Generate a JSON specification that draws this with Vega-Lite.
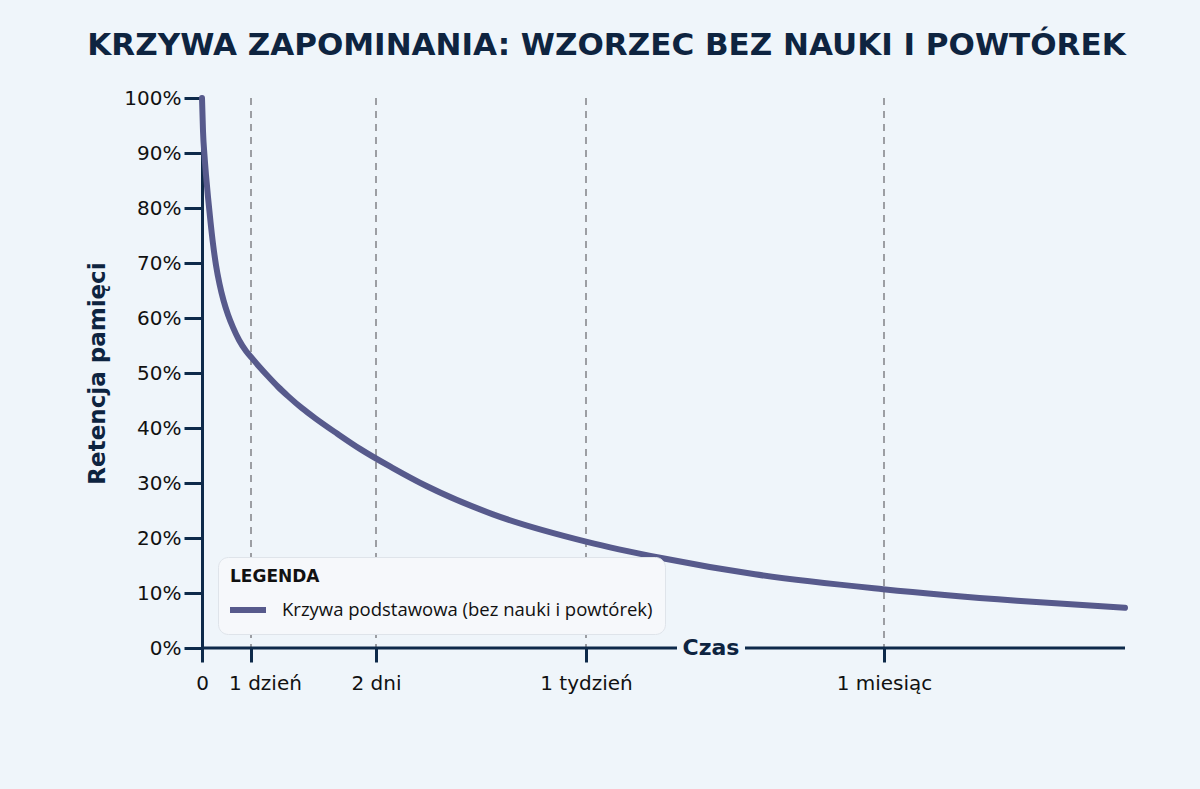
{
  "$schema": "https://vega.github.io/schema/vega-lite/v6.json",
  "autosize": {"type": "none"},
  "width": 923,
  "height": 550,
  "padding": {"left": 202, "top": 98, "right": 75, "bottom": 141},
  "background": "#eff5fa",
  "config": {
    "view": {"stroke": null},
    "font": "DejaVu Sans"
  },
  "title": {
    "text": "KRZYWA ZAPOMINANIA: WZORZEC BEZ NAUKI I POWTÓREK",
    "font": "DejaVu Sans",
    "fontWeight": "bold",
    "fontSize": 31,
    "color": "#0e2440",
    "anchor": "middle",
    "frame": "group",
    "dx": -57,
    "offset": 26
  },
  "datasets": {
    "curve": [
      {"t": 0, "r": 100, "s": "Krzywa podstawowa (bez nauki i powtórek)"},
      {"t": 1, "r": 94, "s": "Krzywa podstawowa (bez nauki i powtórek)"},
      {"t": 2.5, "r": 89.5, "s": "Krzywa podstawowa (bez nauki i powtórek)"},
      {"t": 4, "r": 86, "s": "Krzywa podstawowa (bez nauki i powtórek)"},
      {"t": 6, "r": 82, "s": "Krzywa podstawowa (bez nauki i powtórek)"},
      {"t": 8.5, "r": 77.5, "s": "Krzywa podstawowa (bez nauki i powtórek)"},
      {"t": 11, "r": 73.5, "s": "Krzywa podstawowa (bez nauki i powtórek)"},
      {"t": 14, "r": 69.6, "s": "Krzywa podstawowa (bez nauki i powtórek)"},
      {"t": 17.5, "r": 66.2, "s": "Krzywa podstawowa (bez nauki i powtórek)"},
      {"t": 21.5, "r": 63.2, "s": "Krzywa podstawowa (bez nauki i powtórek)"},
      {"t": 26, "r": 60.6, "s": "Krzywa podstawowa (bez nauki i powtórek)"},
      {"t": 31, "r": 58.3, "s": "Krzywa podstawowa (bez nauki i powtórek)"},
      {"t": 37, "r": 56.0, "s": "Krzywa podstawowa (bez nauki i powtórek)"},
      {"t": 44, "r": 54.0, "s": "Krzywa podstawowa (bez nauki i powtórek)"},
      {"t": 50, "r": 52.7, "s": "Krzywa podstawowa (bez nauki i powtórek)"},
      {"t": 58, "r": 51.0, "s": "Krzywa podstawowa (bez nauki i powtórek)"},
      {"t": 66, "r": 49.4, "s": "Krzywa podstawowa (bez nauki i powtórek)"},
      {"t": 76, "r": 47.5, "s": "Krzywa podstawowa (bez nauki i powtórek)"},
      {"t": 86, "r": 45.8, "s": "Krzywa podstawowa (bez nauki i powtórek)"},
      {"t": 100, "r": 43.6, "s": "Krzywa podstawowa (bez nauki i powtórek)"},
      {"t": 113, "r": 41.8, "s": "Krzywa podstawowa (bez nauki i powtórek)"},
      {"t": 135, "r": 39.0, "s": "Krzywa podstawowa (bez nauki i powtórek)"},
      {"t": 158, "r": 36.2, "s": "Krzywa podstawowa (bez nauki i powtórek)"},
      {"t": 190, "r": 32.8, "s": "Krzywa podstawowa (bez nauki i powtórek)"},
      {"t": 225, "r": 29.4, "s": "Krzywa podstawowa (bez nauki i powtórek)"},
      {"t": 291, "r": 24.3, "s": "Krzywa podstawowa (bez nauki i powtórek)"},
      {"t": 385, "r": 19.3, "s": "Krzywa podstawowa (bez nauki i powtórek)"},
      {"t": 458, "r": 16.4, "s": "Krzywa podstawowa (bez nauki i powtórek)"},
      {"t": 553, "r": 13.4, "s": "Krzywa podstawowa (bez nauki i powtórek)"},
      {"t": 681, "r": 10.7, "s": "Krzywa podstawowa (bez nauki i powtórek)"},
      {"t": 815, "r": 8.6, "s": "Krzywa podstawowa (bez nauki i powtórek)"},
      {"t": 923, "r": 7.3, "s": "Krzywa podstawowa (bez nauki i powtórek)"}
    ],
    "marks": [
      {"t": 49, "label": "1 dzień"},
      {"t": 174, "label": "2 dni"},
      {"t": 384, "label": "1 tydzień"},
      {"t": 682, "label": "1 miesiąc"}
    ],
    "axisline": [
      {"t0": 0, "t1": 475},
      {"t0": 543, "t1": 923}
    ],
    "axistitle": [
      {"t": 509, "r": 0, "label": "Czas"}
    ]
  },
  "layer": [
    {
      "data": {"name": "marks"},
      "mark": {"type": "rule", "color": "#9c9ea3", "strokeWidth": 2, "strokeDash": [7, 6]},
      "encoding": {
        "x": {"field": "t", "type": "quantitative", "scale": {"domain": [0, 923]}}
      }
    },
    {
      "data": {"name": "axisline"},
      "mark": {"type": "rule", "color": "#0e2a4a", "strokeWidth": 3},
      "encoding": {
        "x": {"field": "t0", "type": "quantitative"},
        "x2": {"field": "t1"},
        "y": {"datum": 0, "type": "quantitative"}
      }
    },
    {
      "data": {"name": "curve"},
      "mark": {"type": "line", "strokeWidth": 6, "interpolate": "monotone", "strokeCap": "round", "strokeJoin": "round"},
      "encoding": {
        "x": {
          "field": "t",
          "type": "quantitative",
          "scale": {"domain": [0, 923], "nice": false, "zero": false},
          "axis": {
            "values": [0, 49, 174, 384, 682],
            "labelExpr": "datum.value == 0 ? '0' : datum.value == 49 ? '1 dzień' : datum.value == 174 ? '2 dni' : datum.value == 384 ? '1 tydzień' : '1 miesiąc'",
            "title": null,
            "domain": false,
            "grid": false,
            "labelFlush": false,
            "labelOverlap": false,
            "tickColor": "#0e2a4a",
            "tickWidth": 3,
            "tickSize": 14,
            "labelPadding": 11,
            "labelFontSize": 20,
            "labelColor": "#111111",
            "labelFont": "DejaVu Sans",
            "labelOffset": {"condition": {"test": "datum.value == 49", "value": 14}, "value": 0}
          }
        },
        "y": {
          "field": "r",
          "type": "quantitative",
          "scale": {"domain": [0, 100], "nice": false},
          "axis": {
            "values": [0, 10, 20, 30, 40, 50, 60, 70, 80, 90, 100],
            "labelExpr": "datum.value + '%'",
            "title": "Retencja pamięci",
            "titleFont": "DejaVu Sans",
            "titleFontWeight": "bold",
            "titleFontSize": 23,
            "titleColor": "#0e2440",
            "titlePadding": 14,
            "grid": false,
            "domainColor": "#0e2a4a",
            "domainWidth": 3,
            "tickColor": "#0e2a4a",
            "tickWidth": 3,
            "tickSize": 18,
            "labelPadding": 3,
            "labelFontSize": 20,
            "labelColor": "#111111",
            "labelFont": "DejaVu Sans"
          }
        },
        "color": {
          "field": "s",
          "type": "nominal",
          "scale": {"range": ["#575a8c"]},
          "legend": {
            "orient": "none",
            "legendX": 16,
            "legendY": 459,
            "title": "LEGENDA",
            "titleFont": "DejaVu Sans",
            "titleFontWeight": "bold",
            "titleFontSize": 17,
            "titleColor": "#111111",
            "titlePadding": 11,
            "labelFont": "Open Sans",
            "labelFontSize": 18.5,
            "labelColor": "#111111",
            "labelLimit": 600,
            "labelOffset": 26,
            "symbolType": "M-1.3,0H2.3",
            "symbolStrokeWidth": 6,
            "symbolSize": 400,
            "padding": 12,
            "fillColor": "#f6f8fb",
            "strokeColor": "#dfe4ea",
            "cornerRadius": 10
          }
        }
      }
    },
    {
      "data": {"name": "axistitle"},
      "mark": {"type": "text", "font": "DejaVu Sans", "fontWeight": "bold", "fontSize": 22, "color": "#0e2440", "baseline": "middle", "align": "center"},
      "encoding": {
        "x": {"field": "t", "type": "quantitative"},
        "y": {"field": "r", "type": "quantitative"},
        "text": {"field": "label"}
      }
    }
  ]
}
